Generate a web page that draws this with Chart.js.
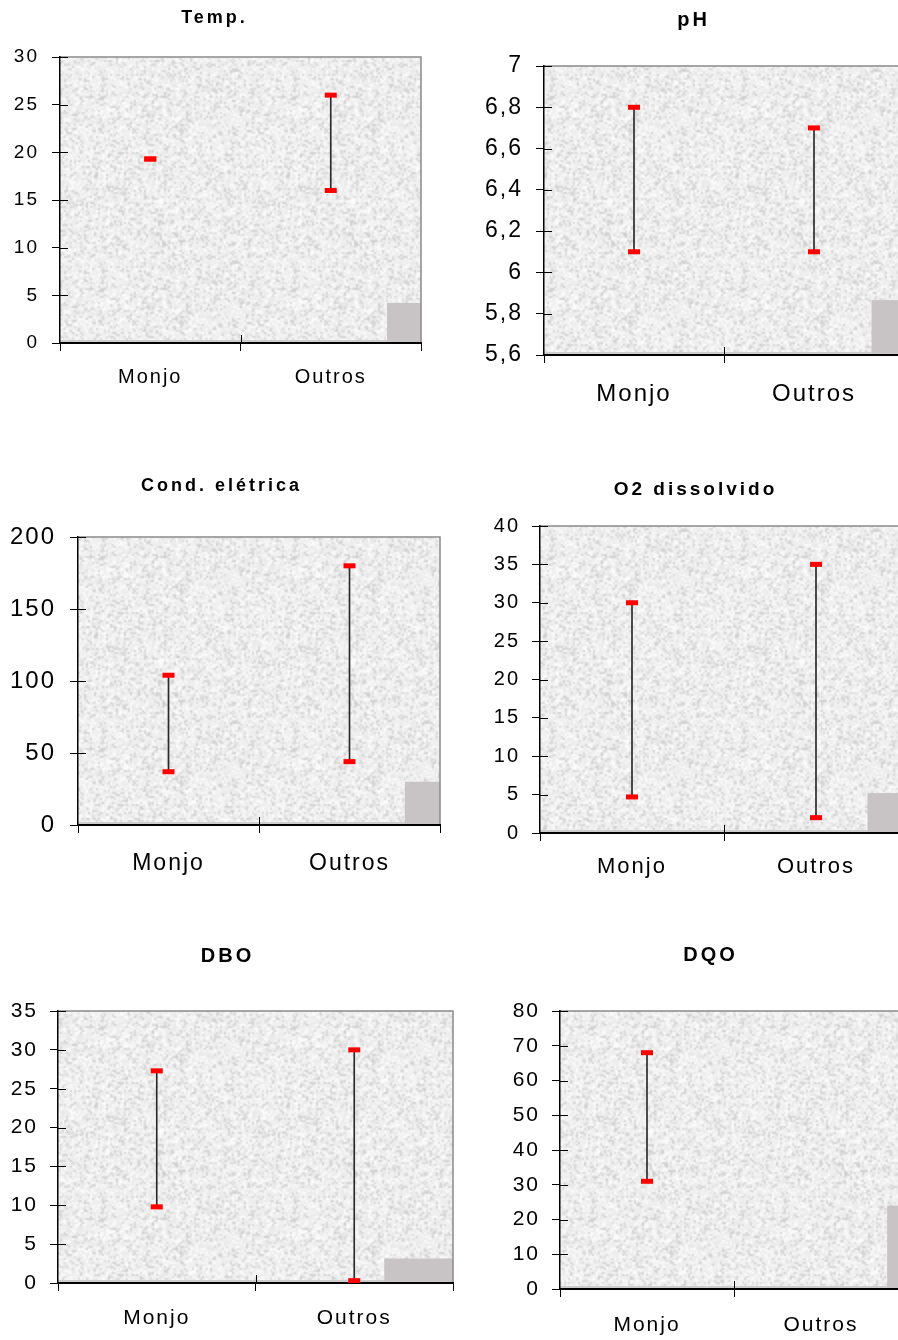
<!DOCTYPE html>
<html lang="pt-BR">
<head>
<meta charset="utf-8">
<title>Parâmetros - Monjo x Outros</title>
<script src="https://cdn.jsdelivr.net/npm/chart.js@4.4.1/dist/chart.umd.min.js"></script>
<style>
  html, body { margin: 0; padding: 0; background: #fff; overflow: hidden; width: 898px; height: 1340px; }
  canvas { position: absolute; }
</style>
</head>
<body>
<canvas id="temp"></canvas>
<canvas id="ph"></canvas>
<canvas id="cond"></canvas>
<canvas id="o2"></canvas>
<canvas id="dbo"></canvas>
<canvas id="dqo"></canvas>
<script>
// categorias e faixas (mínimo / máximo) de cada parâmetro
const categorias = ["Monjo", "Outros"];

const tempMin = [19.3, 16];
const tempMax = [19.3, 26];

const phMin = [6.1, 6.1];
const phMax = [6.8, 6.7];

const condMin = [37, 44];
const condMax = [104, 180];

const o2Min = [4.7, 2];
const o2Max = [30, 35];

const dboMin = [9.8, 0.3];
const dboMax = [27.3, 30];

const dqoMin = [31, null];
const dqoMax = [68, null];

// eixos y: min, max, passo
const eixoTemp = [0, 30, 5];
const eixoPh = [5.6, 7, 0.2];
const eixoCond = [0, 200, 50];
const eixoO2 = [0, 40, 5];
const eixoDbo = [0, 35, 5];
const eixoDqo = [0, 80, 10];

const FONTE = '"Liberation Sans", Arial, Helvetica, sans-serif';

// textura granulada do fundo da área de plotagem (ladrilho sem emendas)
function criarTextura() {
  const n = 96;
  let s = 73421;
  const rnd = () => { s = (s * 1664525 + 1013904223) >>> 0; return s / 4294967296; };
  const base = new Float32Array(n * n);
  for (let i = 0; i < n * n; i++) {
    const r = rnd();
    let v = 238 + (rnd() - 0.5) * 14;
    if (r < 0.18) v = 204 + rnd() * 16;
    else if (r > 0.82) v = 251;
    base[i] = v;
  }
  const m = n * 2;
  const cv = document.createElement("canvas");
  cv.width = cv.height = m;
  const c = cv.getContext("2d");
  const img = c.createImageData(m, m);
  const at = (x, y) => base[((y + n) % n) * n + ((x + n) % n)];
  for (let y = 0; y < m; y++) {
    for (let x = 0; x < m; x++) {
      const fx = x / 2 - 0.25, fy = y / 2 - 0.25;
      const x0 = Math.floor(fx), y0 = Math.floor(fy);
      const tx = fx - x0, ty = fy - y0;
      const v = at(x0, y0) * (1 - tx) * (1 - ty) + at(x0 + 1, y0) * tx * (1 - ty) +
                at(x0, y0 + 1) * (1 - tx) * ty + at(x0 + 1, y0 + 1) * tx * ty;
      const k = (y * m + x) * 4;
      img.data[k] = img.data[k + 1] = img.data[k + 2] = Math.round(v);
      img.data[k + 3] = 255;
    }
  }
  c.putImageData(img, 0, 0);
  return cv;
}
const textura = criarTextura();

const moldura = {
  id: "moldura",
  beforeUpdate(chart, args, opts) { chart.ctx.letterSpacing = opts.espaco; },
  beforeLayout(chart, args, opts) { chart.ctx.letterSpacing = opts.espaco; },
  beforeDraw(chart, args, opts) {
    const { ctx, chartArea: a } = chart;
    ctx.letterSpacing = opts.espaco;
    ctx.save();
    ctx.fillStyle = ctx.createPattern(textura, "repeat");
    ctx.fillRect(a.left, a.top, a.width, a.height);
    ctx.fillStyle = "#cdcdcd";
    ctx.fillRect(a.left, a.bottom - 3, a.width, 3);
    ctx.fillStyle = "#c8c4c6";
    const bx = a.left + a.width * opts.bloco.x;
    const bh = a.height * opts.bloco.h;
    ctx.fillRect(bx, a.bottom - bh, a.right - bx, bh);
    ctx.strokeStyle = "#8a8a8a";
    ctx.lineWidth = 1.5;
    ctx.beginPath();
    ctx.moveTo(a.left, a.top);
    ctx.lineTo(a.right, a.top);
    ctx.lineTo(a.right, a.bottom);
    ctx.stroke();
    ctx.restore();
  },
  afterDraw(chart) {
    // marcas de escala cruzando o eixo, para dentro
    const { ctx, chartArea: a, scales } = chart;
    ctx.save();
    ctx.strokeStyle = "#000";
    ctx.lineWidth = 1;
    ctx.beginPath();
    scales.y.ticks.forEach((t, i) => {
      const py = Math.round(scales.y.getPixelForTick(i)) + 0.5;
      ctx.moveTo(a.left, py);
      ctx.lineTo(a.left + 8, py);
    });
    const pm = Math.round(scales.x.getPixelForValue(0.5)) + 0.5;
    ctx.moveTo(pm, a.bottom);
    ctx.lineTo(pm, a.bottom - 8);
    ctx.stroke();
    ctx.restore();
  }
};

const rotulo = v => String(Math.round(v * 10) / 10).replace(".", ",");

function grafico(p) {
  const padRight = 1;
  const padLeft = Math.max(0, 2 * p.tc - p.right - padRight - p.L);
  const W = p.right - p.L + padRight;

  const cv = document.getElementById(p.id);
  cv.width = W;
  cv.height = p.H;
  cv.style.left = p.L + "px";
  cv.style.top = p.T + "px";

  const lh = p.tf * 1.2;
  const padTop = p.ty - p.T - lh / 2;
  const padBottom = p.top - p.T - padTop - lh;

  const chart = new Chart(cv, {
    type: "bar",
    data: {
      labels: categorias,
      datasets: [
        {
          label: "Máximo",
          type: "line",
          data: p.max,
          showLine: false,
          pointStyle: "line",
          pointRadius: 6,
          pointHoverRadius: 6,
          pointBorderWidth: 5,
          borderColor: "#ff0000",
          order: 0
        },
        {
          label: "Mínimo",
          type: "line",
          data: p.min,
          showLine: false,
          pointStyle: "line",
          pointRadius: 6,
          pointHoverRadius: 6,
          pointBorderWidth: 5,
          borderColor: "#ff0000",
          order: 0
        },
        {
          label: "Faixa",
          data: categorias.map((c, i) =>
            p.min[i] == null || p.max[i] == null ? null : [p.min[i], p.max[i]]),
          backgroundColor: "#2a2a2a",
          barThickness: 1,
          order: 1
        }
      ]
    },
    options: {
      responsive: false,
      animation: false,
      devicePixelRatio: 1,
      events: [],
      layout: { autoPadding: false, padding: { left: padLeft, top: 0, bottom: 0, right: padRight } },
      plugins: {
        legend: { display: false },
        tooltip: { enabled: false },
        title: {
          display: true,
          text: p.titulo,
          color: "#000",
          font: { family: FONTE, size: p.tf, weight: "bold" },
          padding: { top: padTop, bottom: padBottom }
        },
        moldura: { espaco: "2px", bloco: p.bloco }
      },
      scales: {
        x: {
          offset: true,
          grid: { offset: true, drawOnChartArea: false, tickLength: 8, color: "#000" },
          border: { color: "#000", width: 2 },
          ticks: { color: "#000", font: { family: FONTE, size: p.xf }, padding: p.xPad },
          afterFit: s => {
            s.height = p.T + p.H - p.bottom;
            s.paddingLeft = 0;
            s.paddingRight = 0;
          }
        },
        y: {
          min: p.eixo[0],
          max: p.eixo[1],
          grid: { drawOnChartArea: false, tickLength: 8, color: "#000" },
          border: { color: "#000", width: 1.5 },
          ticks: {
            stepSize: p.eixo[2],
            color: "#000",
            font: { family: FONTE, size: p.yf },
            padding: p.yPad,
            callback: rotulo
          },
          afterFit: s => { s.width = p.left - p.L - padLeft; }
        }
      }
    },
    plugins: [moldura]
  });

  // títulos com espaçamento um pouco maior
  const tb = chart.titleBlock;
  if (tb) {
    const desenhar = tb.draw.bind(tb);
    tb.draw = function (area) {
      chart.ctx.letterSpacing = "3px";
      desenhar(area);
      chart.ctx.letterSpacing = "2px";
    };
    chart.draw();
  }
  return chart;
}

grafico({ id: "temp", titulo: "Temp.", min: tempMin, max: tempMax, eixo: eixoTemp,
  L: 0, T: 0, H: 400, left: 60, top: 57, right: 421, bottom: 343, tc: 215,
  ty: 18, tf: 18, yf: 19, xf: 20, yPad: 13, xPad: 14, bloco: { x: 0.906, h: 0.14 } });

grafico({ id: "ph", titulo: "pH", min: phMin, max: phMax, eixo: eixoPh,
  L: 449, T: 0, H: 420, left: 544, top: 66, right: 904, bottom: 355, tc: 694,
  ty: 20, tf: 20, yf: 23, xf: 24, yPad: 13, xPad: 17, bloco: { x: 0.91, h: 0.19 } });

grafico({ id: "cond", titulo: "Cond. elétrica", min: condMin, max: condMax, eixo: eixoCond,
  L: 0, T: 460, H: 420, left: 78, top: 537, right: 440, bottom: 825, tc: 222,
  ty: 486, tf: 18, yf: 24, xf: 23, yPad: 14, xPad: 17, bloco: { x: 0.903, h: 0.15 } });

grafico({ id: "o2", titulo: "O2 dissolvido", min: o2Min, max: o2Max, eixo: eixoO2,
  L: 449, T: 460, H: 430, left: 540, top: 526, right: 908, bottom: 833, tc: 696,
  ty: 490, tf: 19, yf: 20, xf: 22, yPad: 12, xPad: 13, bloco: { x: 0.89, h: 0.13 } });

grafico({ id: "dbo", titulo: "DBO", min: dboMin, max: dboMax, eixo: eixoDbo,
  L: 0, T: 930, H: 410, left: 58, top: 1011, right: 453, bottom: 1283, tc: 228,
  ty: 956, tf: 20, yf: 21, xf: 21, yPad: 12, xPad: 15, bloco: { x: 0.826, h: 0.09 } });

grafico({ id: "dqo", titulo: "DQO", min: dqoMin, max: dqoMax, eixo: eixoDqo,
  L: 490, T: 930, H: 410, left: 560, top: 1011, right: 908, bottom: 1289, tc: 711,
  ty: 955, tf: 20, yf: 21, xf: 21, yPad: 12, xPad: 16, bloco: { x: 0.94, h: 0.30 } });
</script>
</body>
</html>
